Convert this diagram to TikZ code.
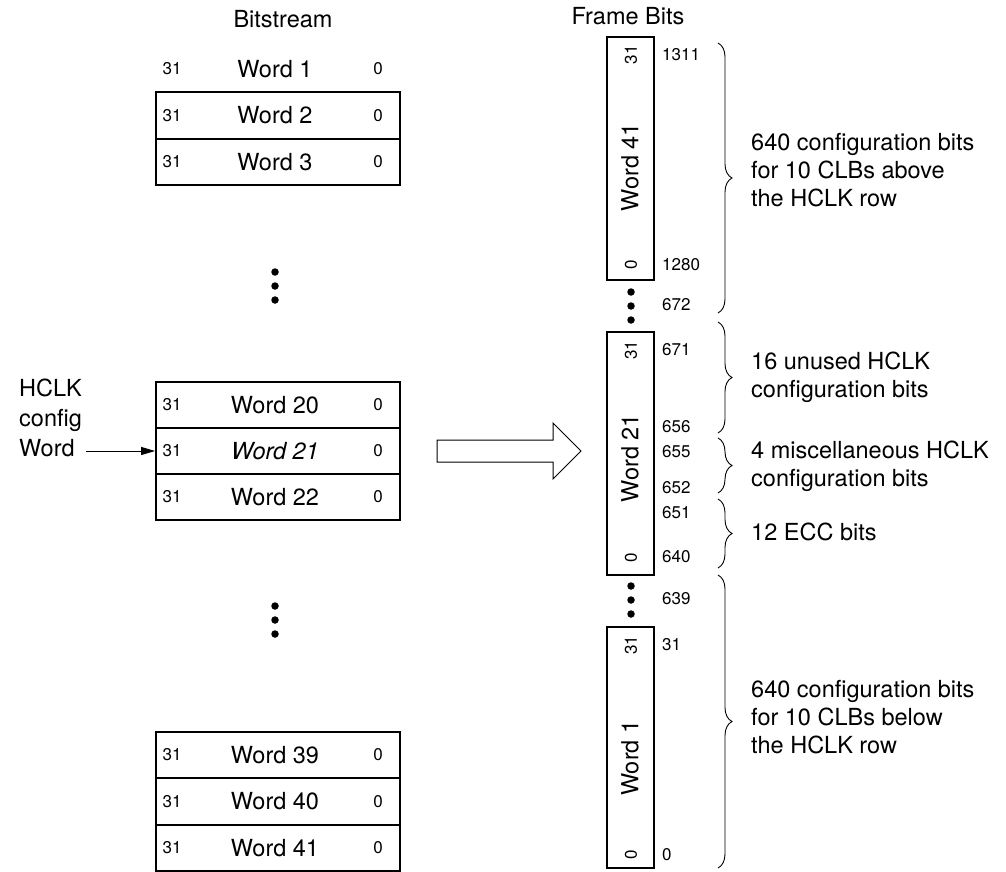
\documentclass[tikz,border=0pt]{standalone}
\usepackage{fontspec}
\setmainfont{TeX Gyre Heros}
\usetikzlibrary{decorations.pathreplacing,arrows.meta}
\newcommand\wrow[3]{%
  \node[wordbox] (#1) at (278,#2) {};
  \node[small] (#1a) at (172,#2) {31};
  \node[big] (#1b) at (275,#2) {#3};
  \node[small] (#1c) at (378,#2) {0};
}
\newcommand\bitnum[3]{\node[small, anchor=west] (#1) at (662,#2) {#3};}
\begin{document}
\begin{tikzpicture}[x=1pt,y=-1pt,
  big/.style={font=\fontsize{23.5}{28}\selectfont, inner sep=0pt},
  small/.style={font=\fontsize{17}{18}\selectfont, inner sep=0pt},
  wordbox/.style={draw, line width=1.8pt, minimum width=244pt, minimum height=46.5pt, inner sep=0pt},
  framebox/.style={draw, line width=1.8pt, minimum width=47pt, inner sep=0pt},
  bitdot/.style={circle, fill, inner sep=0pt, minimum size=7.5pt},
  brc/.style={decorate, decoration={brace, amplitude=14pt}, line width=0.9pt},
  note/.style={big, anchor=west, align=left}
]
\useasboundingbox (0,0) rectangle (1006,872);

% headings
\node[big] (hbs) at (283,19) {Bitstream};
\node[big] (hfb) at (628,16) {Frame Bits};

% left column
\node[small] (w1a) at (172,69) {31};
\node[big] (w1b) at (275,69) {Word 1};
\node[small] (w1c) at (378,69) {0};
\wrow{w2}{115.5}{Word 2}
\wrow{w3}{162}{Word 3}
\wrow{w20}{405}{Word 20}
\wrow{w21}{451}{\itshape Word 21}
\wrow{w22}{497}{Word 22}
\wrow{w39}{755}{Word 39}
\wrow{w40}{801.5}{Word 40}
\wrow{w41}{848}{Word 41}

\node[bitdot] (ld1) at (275,272) {};
\node[bitdot] (ld2) at (275,286) {};
\node[bitdot] (ld3) at (275,300) {};
\node[bitdot] (ld4) at (275,606) {};
\node[bitdot] (ld5) at (275,620) {};
\node[bitdot] (ld6) at (275,634) {};

% HCLK label and arrow
\node[big, align=left, anchor=west, font=\fontsize{23.5}{30}\selectfont] (hclk) at (19,418) {HCLK\\config\\Word};
\coordinate (hs) at (86,451);
\draw[line width=1pt, -{Triangle[length=14pt,width=8pt]}] (hs) -- (w21.west);

% hollow arrow
\draw[line width=1pt] (437,440) -- (553,440) -- (553,423) -- (581,451) -- (553,479) -- (553,462) -- (437,462) -- cycle;

% frame column
\node[framebox, minimum height=243pt] (f41) at (630.5,158.5) {};
\node[framebox, minimum height=243pt] (f21) at (630.5,453.5) {};
\node[framebox, minimum height=241pt] (f1) at (630.5,747.5) {};

\node[small, rotate=90] (f41a) at (631,55) {31};
\node[big, rotate=90] (f41b) at (630,167) {Word 41};
\node[small, rotate=90] (f41c) at (631,265) {0};
\node[small, rotate=90] (f21a) at (631,350) {31};
\node[big, rotate=90] (f21b) at (630,458) {Word 21};
\node[small, rotate=90] (f21c) at (631,558) {0};
\node[small, rotate=90] (f1a) at (631,645) {31};
\node[big, rotate=90] (f1b) at (630,758) {Word 1};
\node[small, rotate=90] (f1c) at (631,855) {0};

\node[bitdot] (rd1) at (631,292) {};
\node[bitdot] (rd2) at (631,306) {};
\node[bitdot] (rd3) at (631,320) {};
\node[bitdot] (rd4) at (631,586) {};
\node[bitdot] (rd5) at (631,600) {};
\node[bitdot] (rd6) at (631,614) {};

% bit numbers
\bitnum{n1311}{55}{1311}
\bitnum{n1280}{265}{1280}
\bitnum{n672}{305}{672}
\bitnum{n671}{350}{671}
\bitnum{n656}{427}{656}
\bitnum{n655}{452}{655}
\bitnum{n652}{488}{652}
\bitnum{n651}{513}{651}
\bitnum{n640}{557}{640}
\bitnum{n639}{599}{639}
\bitnum{n31}{645}{31}
\bitnum{n0}{855}{0}

% braces
\coordinate (b1s) at (718,43);  \coordinate (b1e) at (718,313);
\coordinate (b2s) at (718,322); \coordinate (b2e) at (718,433);
\coordinate (b3s) at (718,438); \coordinate (b3e) at (718,493);
\coordinate (b4s) at (718,499); \coordinate (b4e) at (718,568);
\coordinate (b5s) at (718,575); \coordinate (b5e) at (718,868);
\draw[brc] (b1s) -- (b1e);
\draw[brc] (b2s) -- (b2e);
\draw[brc] (b3s) -- (b3e);
\draw[brc] (b4s) -- (b4e);
\draw[brc] (b5s) -- (b5e);

% notes
\node[note] (t1) at (751,170) {640 configuration bits\\for 10 CLBs above\\the HCLK row};
\node[note] (t2) at (751,377) {16 unused HCLK\\configuration bits};
\node[note] (t3) at (751,466) {4 miscellaneous HCLK\\configuration bits};
\node[note] (t4) at (751,532) {12 ECC bits};
\node[note] (t5) at (751,717) {640 configuration bits\\for 10 CLBs below\\the HCLK row};
\end{tikzpicture}
\end{document}
